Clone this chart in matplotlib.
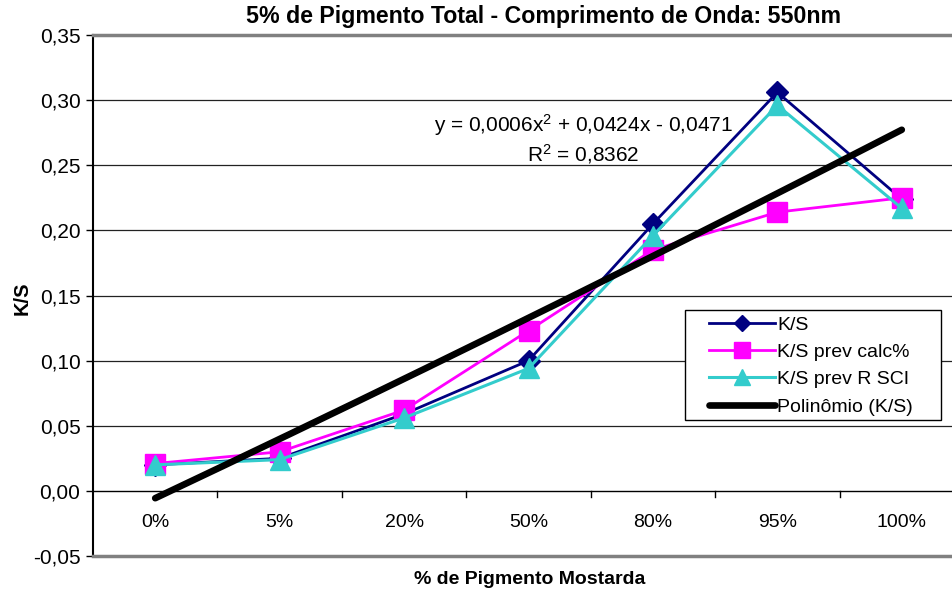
import matplotlib
matplotlib.use("Agg")
import matplotlib.pyplot as plt
import numpy as np
from matplotlib.patches import Rectangle
from matplotlib.ticker import FuncFormatter

plt.rcParams["font.family"] = ["Liberation Sans", "DejaVu Sans"]
plt.rcParams["mathtext.fontset"] = "custom"
plt.rcParams["mathtext.rm"] = "Liberation Sans"
plt.rcParams["mathtext.it"] = "Liberation Sans"

categories = ["0%", "5%", "20%", "50%", "80%", "95%", "100%"]
ks = [0.020, 0.025, 0.059, 0.100, 0.205, 0.306, 0.224]
ks_prev_calc = [0.021, 0.030, 0.062, 0.123, 0.185, 0.214, 0.225]
ks_prev_rsci = [0.020, 0.024, 0.056, 0.094, 0.196, 0.296, 0.217]
eq_text = "y = 0,0006x$^{2}$ + 0,0424x - 0,0471\nR$^{2}$ = 0,8362"

x = np.arange(1, len(categories) + 1)

fig = plt.figure(figsize=(9.52, 5.96), dpi=100)
ax = fig.add_axes([93 / 952, 1 - 556 / 596, (964 - 93) / 952, (556 - 35) / 596])

ax.set_xlim(0.5, len(categories) + 0.5)
ax.set_ylim(-0.05, 0.35)

# gridlines like Excel
for yv in np.arange(0.05, 0.301, 0.05):
    ax.axhline(yv, color="#222222", lw=0.9, zorder=1)
ax.axhline(0, color="black", lw=1.0, zorder=1)

ax.plot(x, ks, color="#000080", lw=2, marker="D", ms=11, label="K/S", zorder=3)
ax.plot(x, ks_prev_calc, color="#FF00FF", lw=2, marker="s", ms=15, label="K/S prev calc%", zorder=4)
ax.plot(x, ks_prev_rsci, color="#33CCCC", lw=2.2, marker="^", ms=15, label="K/S prev R SCI", zorder=5)

# 2nd order polynomial trendline of K/S
coef = np.polyfit(x, ks, 2)
xs = np.linspace(x[0], x[-1], 200)
ax.plot(xs, np.polyval(coef, xs), color="black", lw=4.8, solid_capstyle="round",
        label="Polin\u00f4mio (K/S)", zorder=6)

fig.text(583 / 952, 1 - 139 / 596, eq_text, ha="center", va="center", fontsize=15,
         linespacing=1.2, multialignment="center")

# category boundary ticks on the zero line
for b in np.arange(1.5, len(categories), 1.0):
    ax.plot([b, b], [0, -0.0045], color="black", lw=1, zorder=2, clip_on=False)
for xi, lab in zip(x, categories):
    ax.text(xi, -0.0246, lab, ha="center", va="center", fontsize=14)

ax.set_xticks([])
ax.set_yticks(np.arange(-0.05, 0.351, 0.05))
ax.yaxis.set_major_formatter(FuncFormatter(lambda v, p: f"{v:.2f}".replace(".", ",").replace("-0,00", "0,00")))
ax.tick_params(axis="y", length=5, width=1, labelsize=15, pad=4)

ax.spines["right"].set_visible(False)
ax.spines["top"].set_color("#808080")
ax.spines["top"].set_linewidth(2.5)
ax.spines["bottom"].set_color("#808080")
ax.spines["bottom"].set_linewidth(2.5)
ax.spines["left"].set_linewidth(1.5)

fig.text(543 / 952, 1 - 17 / 596, "5% de Pigmento Total - Comprimento de Onda: 550nm",
         ha="center", va="center", fontsize=16.7, fontweight="bold")
fig.text(22 / 952, 1 - 298 / 596, "K/S", rotation=90, ha="center", va="center",
         fontsize=14.5, fontweight="bold")
fig.text(530 / 952, 1 - 580 / 596, "% de Pigmento Mostarda", ha="center", va="center",
         fontsize=14, fontweight="bold")

# legend box drawn like Excel's, legend entries placed inside it
ax.add_patch(Rectangle((685 / 952, 1 - 420 / 596), (941 - 685) / 952, (420 - 310) / 596,
                       transform=fig.transFigure, facecolor="white", edgecolor="black",
                       lw=1, zorder=7, clip_on=False))
leg = ax.legend(loc="upper left", bbox_to_anchor=(709 / 952, 1 - 316 / 596),
                bbox_transform=fig.transFigure, fontsize=14, frameon=False,
                handlelength=3.4, handletextpad=0.12, borderpad=0, labelspacing=0.5,
                markerscale=0.75, borderaxespad=0)
leg.set_zorder(8)

fig.savefig("out.png", dpi=100)
